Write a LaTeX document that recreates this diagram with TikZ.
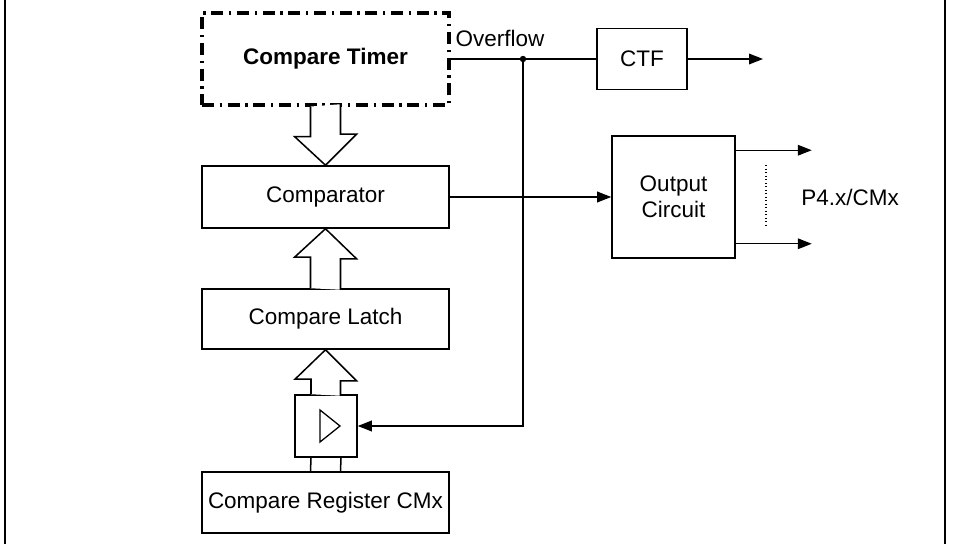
\documentclass[tikz,border=0pt]{standalone}
\usepackage{fontspec}
\setmainfont{Liberation Sans}
\usetikzlibrary{positioning, arrows.meta, calc}

\begin{document}
\begin{tikzpicture}[
  x=0.03cm, y=-0.03cm,
  font=\fontsize{19.2}{22.5}\selectfont,
  line width=1.1pt,
  block/.style={draw, line width=1.3pt, minimum width=7.41cm, inner sep=0pt,
    align=center},
  timerbox/.style={block, line width=2.6pt, minimum height=2.76cm,
    dash pattern=on 0.36cm off 0.17cm on 0.07cm off 0.17cm,
    font=\fontsize{19.2}{22.5}\selectfont\bfseries},
  smallbox/.style={draw, line width=1.3pt, inner sep=0pt, align=center},
  sig/.style={-{Triangle[length=0.42cm, width=0.32cm]}},
  bus/.style={draw, line width=1.3pt, fill=white},
]
  \useasboundingbox (0,0) rectangle (954,544);

  % frame (sides only)
  \draw[line width=1.7pt] (5,0) -- (5,544);
  \draw[line width=1.7pt] (945,0) -- (945,544);

  % left column
  \node[timerbox] (timer) at (325.5,59) {Compare Timer};
  \node[block, minimum height=1.86cm] (comp) at (325.5,197) {Comparator};
  \node[block, minimum height=1.8cm] (latch) at (325.5,319) {Compare Latch};
  \node[smallbox, minimum size=1.86cm] (buf) at (326,426) {};
  \node[block, minimum height=1.83cm] (reg) at (325.5,502.5)
    {Compare Register CMx};

  % right side
  \node[smallbox, minimum width=2.7cm, minimum height=1.83cm] (ctf)
    at (642,59) {CTF};
  \node[smallbox, minimum width=3.69cm, minimum height=3.66cm] (out)
    at (673.5,197) {Output\\Circuit};
  \node (ovf) at (500,38) {Overflow};
  \node (pins) at (850,197) {P4.x/CMx};

  % wide bus arrows
  \draw[bus] ($(timer.south)+(-15,0)$) -- ++(0,30) -- ++(-16,0)
    -- (comp.north) -- ++(31,-31) -- ++(-16,0) -- ++(0,-30);
  \draw[bus] ($(latch.north)+(-15,0)$) -- ++(0,-31) -- ++(-16,0)
    -- (comp.south) -- ++(31,30) -- ++(-16,0) -- ++(0,31);
  \draw[bus] ($(buf.north)+(-15,0)$) -- ++(0,-15) -- ++(-16,0)
    -- (latch.south) -- ++(31,31) -- ++(-16,0) -- ++(0,15);
  \draw[line width=1.3pt] ($(buf.south)+(-15,0)$) -- ($(reg.north)+(-15,0)$);
  \draw[line width=1.3pt] ($(buf.south)+(15,0)$) -- ($(reg.north)+(15,0)$);

  % buffer symbol
  \draw[line width=1.1pt] ($(buf.center)+(-6,-16)$) -- ++(20,16)
    -- ++(-20,16) -- cycle;

  % overflow line
  \coordinate (split) at (523,59);
  \coordinate (ctfout) at (763,59);
  \draw (timer.east) -- (ctf.west);
  \fill (split) circle (3.2);
  \draw[sig] (split) |- (buf.east);
  \draw[sig] (ctf.east) -- (ctfout);

  % comparator to output circuit
  \draw[sig] (comp.east) -- (out.west);

  % outputs
  \coordinate (o1) at ($(out.north east)+(76,15)$);
  \coordinate (o2) at ($(out.south east)+(76,-15)$);
  \draw[sig] ($(out.north east)+(0,15)$) -- (o1);
  \draw[sig] ($(out.south east)+(0,-15)$) -- (o2);
  \draw[line width=1pt, dotted] (766,165) -- (766,228);
\end{tikzpicture}
\end{document}
